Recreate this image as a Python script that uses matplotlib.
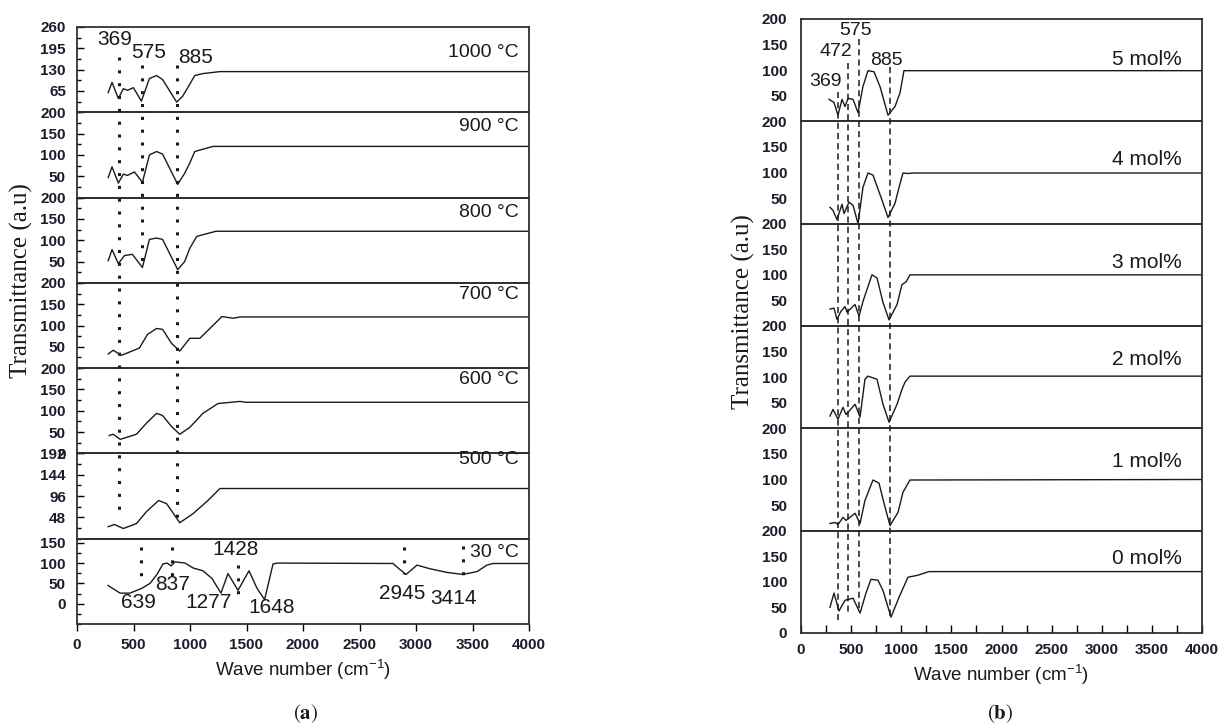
import matplotlib.pyplot as plt
from matplotlib.lines import Line2D
from matplotlib.ticker import MultipleLocator

plt.rcParams['font.family'] = ['Liberation Sans', 'DejaVu Sans']

# ---- (a) calcination temperature series, top to bottom ----
temp_labels = ["1000 °C", "900 °C", "800 °C", "700 °C", "600 °C", "500 °C", "30 °C"]

wn_1000 = [276, 310, 366, 410, 446, 499, 570, 641, 704, 757, 882, 935, 980, 1042, 1114, 1265, 4000]
t_1000 = [60, 91, 42, 72, 67, 75, 34, 103, 112, 100, 31, 49, 75, 112, 118, 124, 124]
wn_900 = [276, 310, 366, 410, 446, 508, 579, 641, 704, 757, 891, 953, 998, 1042, 1203, 4000]
t_900 = [47, 72, 34, 55, 52, 60, 36, 100, 108, 102, 31, 57, 81, 108, 120, 120]
wn_800 = [276, 310, 366, 420, 490, 579, 641, 704, 757, 891, 953, 998, 1060, 1230, 4000]
t_800 = [52, 78, 45, 64, 67, 36, 102, 105, 102, 31, 50, 81, 109, 121, 121]
wn_700 = [276, 320, 392, 552, 624, 704, 757, 837, 909, 998, 1087, 1176, 1283, 1381, 1443, 4000]
t_700 = [33, 42, 30, 47, 79, 93, 91, 58, 40, 70, 70, 93, 121, 117, 120, 120]
wn_600 = [285, 320, 383, 526, 615, 704, 757, 837, 909, 998, 1114, 1248, 1443, 1487, 4000]
t_600 = [42, 45, 33, 45, 71, 94, 89, 63, 45, 61, 94, 117, 122, 120, 120]
wn_500 = [276, 330, 410, 526, 615, 722, 793, 909, 1025, 1150, 1265, 4000]
t_500 = [27, 32, 23, 34, 61, 86, 79, 36, 56, 84, 113, 113]
wn_30 = [274, 381, 469, 575, 646, 708, 761, 797, 832, 867, 956, 1027, 1115, 1195, 1274, 1336,
         1425, 1522, 1593, 1660, 1735, 1780, 2797, 2841, 2912, 3009, 3124, 3274, 3416, 3540,
         3628, 3682, 4000]
t_30 = [45, 26, 26, 38, 50, 72, 98, 100, 93, 103, 100, 88, 81, 62, 26, 74,
        33, 81, 38, 10, 98, 100, 99, 88, 72, 95, 86, 77, 72, 79,
        95, 99, 99]

left_x = [wn_1000, wn_900, wn_800, wn_700, wn_600, wn_500, wn_30]
left_y = [t_1000, t_900, t_800, t_700, t_600, t_500, t_30]
left_ylims = [(0, 260), (0, 200), (0, 200), (0, 200), (0, 200), (0, 192), (-50, 160)]
left_yticks = [[65, 130, 195, 260], [50, 100, 150, 200], [50, 100, 150, 200],
               [50, 100, 150, 200], [0, 50, 100, 150, 200], [48, 96, 144, 192], [0, 50, 100, 150]]
left_minor = [32.5, 25, 25, 25, 25, 24, 25]
temp_label_y = [181, 167, 164, 172, 174, 179, 127]

# peak labels in the 1000 °C panel and 30 °C panel: (text, wavenumber, value)
peaks_top = [("369", 336, 223), ("575", 637, 181), ("885", 1053, 166)]
peaks_30 = [("639", 540, 3), ("837", 850, 48), ("1277", 1160, 3), ("1428", 1400, 134),
            ("1648", 1726, -9), ("2945", 2876, 26), ("3414", 3328, 12)]
# dotted guides through the 30 °C panel: (wavenumber, top, bottom)
guides_30 = [(566, 139, 45), (841, 139, 67), (1425, 96, 3), (2894, 139, 74), (3416, 143, 48)]
# dotted guides across panels: (wavenumber, top value in 1000 °C, last panel index, bottom value)
guides_left = [(369, 169, 5, 54), (575, 145, 2, 36), (885, 145, 5, 34)]

# ---- (b) doping series, top to bottom ----
mol_labels = ["5 mol%", "4 mol%", "3 mol%", "2 mol%", "1 mol%", "0 mol%"]

wn_5 = [279, 329, 369, 409, 439, 469, 519, 569, 618, 668, 728, 788, 868, 938, 988, 1027, 4000]
t_5 = [43, 37, 12, 43, 29, 45, 43, 17, 68, 99, 97, 68, 12, 29, 56, 99, 99]
wn_4 = [289, 319, 359, 409, 429, 479, 519, 569, 618, 668, 718, 808, 868, 938, 978, 1017, 1067, 1117, 4000]
t_4 = [32, 26, 8, 38, 20, 42, 36, 0, 71, 99, 95, 46, 12, 40, 71, 99, 98, 99, 99]
wn_3 = [289, 329, 359, 399, 439, 459, 539, 579, 618, 708, 758, 818, 878, 958, 1007, 1047, 1087, 4000]
t_3 = [33, 35, 13, 29, 38, 27, 42, 19, 48, 100, 94, 46, 12, 42, 81, 86, 100, 100]
wn_2 = [289, 319, 369, 419, 449, 539, 589, 638, 668, 758, 818, 878, 958, 1007, 1037, 1087, 4000]
t_2 = [24, 37, 18, 41, 27, 47, 22, 96, 102, 96, 47, 12, 47, 76, 90, 102, 102]
wn_1 = [289, 339, 369, 419, 449, 539, 589, 638, 718, 778, 838, 888, 968, 1017, 1087, 4000]
t_1 = [14, 16, 12, 26, 20, 34, 14, 59, 99, 93, 46, 10, 36, 75, 99, 100]
wn_0 = [289, 329, 379, 439, 519, 589, 648, 698, 768, 818, 898, 978, 1067, 1167, 1277, 4000]
t_0 = [50, 78, 43, 64, 68, 39, 78, 105, 103, 83, 31, 70, 109, 113, 120, 120]

right_x = [wn_5, wn_4, wn_3, wn_2, wn_1, wn_0]
right_y = [t_5, t_4, t_3, t_2, t_1, t_0]
mol_label_y = [120, 125, 125, 135, 135, 146]
peaks_b = [("369", 249, 78), ("472", 349, 136), ("575", 549, 177), ("885", 848, 118)]
# dashed guides: (wavenumber, top value in 5 mol%, bottom value in 0 mol%)
guides_right = [(369, 58, 21), (472, 114, 41), (575, 161, 41), (885, 107, 31)]

W, H = 1219, 727
fig = plt.figure(figsize=(W / 100, H / 100), dpi=100)
INK = '#1a1a1a'
TICK_INK = '#1c1c2c'


def box(x0, x1, y0, y1):
    return [x0 / W, 1 - y1 / H, (x1 - x0) / W, (y1 - y0) / H]


def stack(x0, x1, top, bottom, n):
    h = (bottom - top) / n
    return [fig.add_axes(box(x0, x1, top + i * h, top + (i + 1) * h)) for i in range(n)]


def guide(ax_a, ax_b, x, ya, yb, **kw):
    # vertical guide running from a point in one panel to a point in another
    to_fig = fig.transFigure.inverted()
    pa = to_fig.transform(ax_a.transData.transform((x, ya)))
    pb = to_fig.transform(ax_b.transData.transform((x, yb)))
    fig.add_artist(Line2D([pa[0], pb[0]], [pa[1], pb[1]], transform=fig.transFigure,
                          color=INK, **kw))


# ---------------- panel (a) ----------------
axs_a = stack(77, 529, 27, 624, 7)
for i, ax in enumerate(axs_a):
    ax.set_facecolor('none')
    ax.plot(left_x[i], left_y[i], color=INK, lw=1.0)
    ax.set_xlim(0, 4000)
    ax.set_ylim(*left_ylims[i])
    ax.set_yticks(left_yticks[i])
    ax.yaxis.set_minor_locator(MultipleLocator(left_minor[i]))
    ax.tick_params(axis='y', which='major', direction='in', length=5, width=1,
                   labelsize=11, pad=8, labelcolor=TICK_INK)
    ax.tick_params(axis='y', which='minor', direction='in', length=3, width=1)
    for lab in ax.get_yticklabels():
        lab.set_fontweight('bold')
    for s in ax.spines.values():
        s.set_linewidth(1.3)
        s.set_color('#303030')
    ax.text(3912, temp_label_y[i], temp_labels[i], ha='right', va='center', fontsize=14, color=INK)
    if i < len(axs_a) - 1:
        ax.tick_params(axis='x', bottom=False, labelbottom=False)

bot = axs_a[-1]
bot.set_xticks(range(0, 4001, 500))
bot.tick_params(axis='x', direction='out', length=5, width=1, labelsize=11, pad=5,
                labelcolor=TICK_INK)
for lab in bot.get_xticklabels():
    lab.set_fontweight('bold')

for txt, x, y in peaks_top:
    axs_a[0].text(x, y, txt, ha='center', va='center', fontsize=15, color=INK)
for txt, x, y in peaks_30:
    bot.text(x, y, txt, ha='center', va='center', fontsize=15, color=INK)
for x, y0, y1 in guides_30:
    bot.plot([x, x], [y0, y1], color=INK, lw=2.2, ls=(0, (1, 3.2)))

for x, ytop, last, ybot in guides_left:
    guide(axs_a[0], axs_a[last], x, ytop, ybot, lw=2.2, ls=(0, (1, 3.2)))

# ---------------- panel (b) ----------------
axs_b = stack(801, 1202, 19, 633, 6)
for i, ax in enumerate(axs_b):
    ax.set_facecolor('none')
    ax.plot(right_x[i], right_y[i], color=INK, lw=1.0)
    ax.set_xlim(0, 4000)
    ax.set_ylim(0, 200)
    if i < len(axs_b) - 1:
        ax.set_yticks([50, 100, 150, 200])
        ax.tick_params(axis='x', bottom=False, labelbottom=False)
    else:
        ax.set_yticks([0, 50, 100, 150, 200])
    ax.tick_params(axis='y', length=0, labelsize=11, pad=10, labelcolor=TICK_INK)
    for lab in ax.get_yticklabels():
        lab.set_fontweight('bold')
    for s in ax.spines.values():
        s.set_linewidth(1.3)
        s.set_color('#303030')
    ax.text(3800, mol_label_y[i], mol_labels[i], ha='right', va='center', fontsize=15, color=INK)

bot_b = axs_b[-1]
bot_b.set_xticks(range(0, 4001, 500))
bot_b.xaxis.set_minor_locator(MultipleLocator(250))
bot_b.tick_params(axis='x', which='both', direction='in', length=6, width=1, labelsize=11,
                  pad=7, labelcolor=TICK_INK)
for lab in bot_b.get_xticklabels():
    lab.set_fontweight('bold')

for txt, x, y in peaks_b:
    axs_b[0].text(x, y, txt, ha='center', va='center', fontsize=14, color=INK)

for x, ytop, ybot in guides_right:
    guide(axs_b[0], axs_b[-1], x, ytop, ybot, lw=1.1, ls=(0, (4, 2.7)))

# ---------------- axis titles ----------------
serif = ['Liberation Serif', 'DejaVu Serif']
fig.text(21 / W, 1 - 281 / H, 'Transmittance (a.u)', rotation=90, ha='center', va='center',
         fontsize=18, family=serif, color=INK)
fig.text(743 / W, 1 - 312 / H, 'Transmittance (a.u)', rotation=90, ha='center', va='center',
         fontsize=18, family=serif, color=INK)
xlab = r'Wave number (cm$^{\mathregular{-1}}$)'
fig.text(303 / W, 1 - 670 / H, xlab, ha='center', va='center', fontsize=13.5, color=INK)
fig.text(1001 / W, 1 - 675 / H, xlab, ha='center', va='center', fontsize=13.5, color=INK)
fig.text(306 / W, 1 - 714 / H, r'$(\mathbf{a})$', ha='center', va='center', fontsize=15,
         math_fontfamily='stix', color=INK)
fig.text(1000 / W, 1 - 714 / H, r'$(\mathbf{b})$', ha='center', va='center', fontsize=15,
         math_fontfamily='stix', color=INK)

fig.savefig('out.png', dpi=100)
